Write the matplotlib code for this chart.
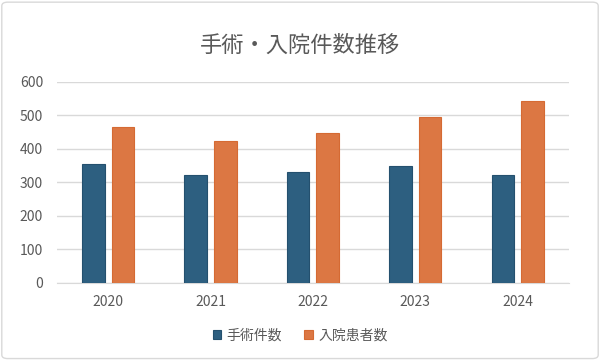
import matplotlib
matplotlib.use("Agg")
import matplotlib.pyplot as plt
import numpy as np
from matplotlib.patches import FancyBboxPatch

plt.rcParams['font.family'] = ['Noto Sans CJK JP', 'DejaVu Sans']

years = ["2020", "2021", "2022", "2023", "2024"]
surgeries = [355, 322, 330, 349, 323]
admissions = [466, 424, 446, 495, 542]
series_names = ["手術件数", "入院患者数"]

blue = "#2d5f80"
orange = "#dc7743"
text_col = "#595959"
grid_col = "#d9d9d9"

fig = plt.figure(figsize=(6, 3.6), dpi=100)
ax = fig.add_axes([0.095, 0.2147, 0.853, 0.558])

x = np.arange(len(years))
w = 0.22
off = 0.145
ax.bar(x - off, surgeries, w, color=blue, edgecolor="#24506e", linewidth=0.8,
       label=series_names[0], zorder=3)
ax.bar(x + off, admissions, w, color=orange, edgecolor="#d56a33", linewidth=0.8,
       label=series_names[1], zorder=3)

ax.set_xlim(-0.5, len(years) - 0.5)
ax.set_ylim(0, 600)
ax.set_yticks(range(0, 601, 100))
ax.set_xticks(x)
ax.set_xticklabels(years)
ax.yaxis.grid(True, color=grid_col, linewidth=1, zorder=0)
for s in ["top", "right", "left"]:
    ax.spines[s].set_visible(False)
ax.spines["bottom"].set_color(grid_col)
ax.tick_params(length=0, colors=text_col, labelsize=10, pad=9)
ax.tick_params(axis="y", pad=10)

fig.text(0.5, 0.875, "手術・入院件数推移", ha="center", va="center",
         fontsize=16, color=text_col)

leg = fig.legend(loc="center", bbox_to_anchor=(0.5, 0.068), ncol=2, frameon=False,
                 fontsize=10, handlelength=0.6, handleheight=0.6,
                 handletextpad=0.4, columnspacing=1.6)
for t in leg.get_texts():
    t.set_color(text_col)

border = FancyBboxPatch((0.003, 0.004), 0.994, 0.99, boxstyle="round,pad=0,rounding_size=0.01",
                        transform=fig.transFigure, fill=False, edgecolor="#d9d9d9",
                        linewidth=1)
fig.patches.append(border)

fig.savefig("out.png", dpi=100)
